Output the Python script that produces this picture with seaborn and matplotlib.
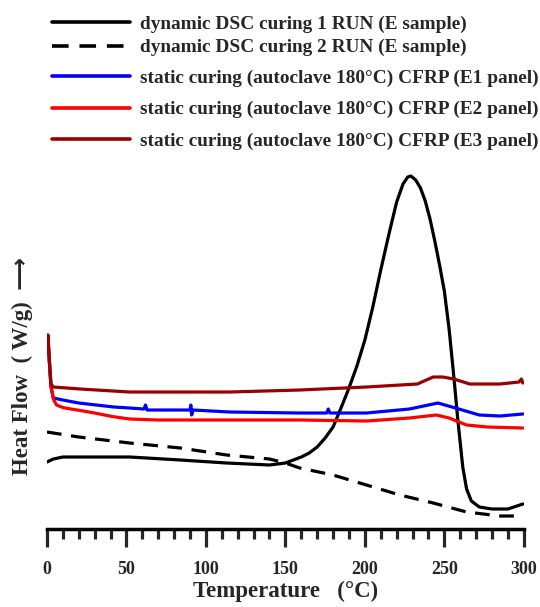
import numpy as np
import pandas as pd
import seaborn as sns
import matplotlib
matplotlib.use("Agg")
import matplotlib.pyplot as plt
from matplotlib.ticker import MultipleLocator

# ---- data (arbitrary heat-flow units) ----
run1_T = [0, 4, 10, 31, 52, 84, 113, 140, 150, 160, 165, 170, 175, 180, 185, 190, 195, 200, 205,
          210, 215, 220, 224, 227, 229, 232, 235, 238, 241, 244, 247, 250, 253, 256, 258.5,
          261.6, 264, 267, 272, 280, 290, 299.4]
run1_Y = [0.67, 0.70, 0.72, 0.72, 0.72, 0.69, 0.66, 0.64, 0.66, 0.72, 0.76, 0.82, 0.91, 1.02,
          1.21, 1.41, 1.63, 1.89, 2.22, 2.59, 2.94, 3.27, 3.45, 3.52, 3.53, 3.49, 3.41, 3.28,
          3.10, 2.88, 2.64, 2.38, 2.00, 1.52, 1.09, 0.62, 0.40, 0.28, 0.22, 0.20, 0.20, 0.25]

run2_T = [0, 20, 52, 84, 113, 140, 150, 159, 180, 201, 222, 243, 264, 285, 299.4]
run2_Y = [0.97, 0.92, 0.86, 0.81, 0.74, 0.70, 0.66, 0.61, 0.54, 0.44, 0.34, 0.26, 0.17, 0.13, 0.13]

e1_T = [0, 0.6, 1.5, 2.5, 4, 10, 20, 31, 42, 52, 61, 62, 63, 90, 90.5, 91, 92, 115, 159, 176,
        177, 178, 201, 228, 246, 257, 272, 285, 299.4]
e1_Y = [1.84, 1.90, 1.66, 1.42, 1.31, 1.29, 1.26, 1.24, 1.22, 1.21, 1.20, 1.24, 1.19, 1.19,
        1.24, 1.14, 1.19, 1.17, 1.16, 1.16, 1.20, 1.16, 1.16, 1.20, 1.26, 1.21, 1.14, 1.13, 1.15]

e2_T = [0, 0.6, 1.5, 2.5, 4, 6, 10, 15, 21, 30, 41, 52, 70, 115, 159, 201, 228, 245, 253, 264,
        277, 299.4]
e2_Y = [1.86, 1.94, 1.69, 1.44, 1.30, 1.24, 1.215, 1.20, 1.185, 1.16, 1.125, 1.10, 1.09, 1.09,
        1.09, 1.08, 1.11, 1.14, 1.11, 1.04, 1.02, 1.01]

e3_T = [0, 0.6, 1.5, 2.5, 4, 21, 52, 115, 159, 201, 233, 243, 249, 256, 266, 285, 297, 298.5,
        299.4]
e3_Y = [1.86, 1.94, 1.69, 1.45, 1.42, 1.40, 1.37, 1.37, 1.39, 1.42, 1.45, 1.52, 1.52, 1.50,
        1.45, 1.45, 1.47, 1.50, 1.46]

labels = ["dynamic DSC curing 1 RUN (E sample)",
          "dynamic DSC curing 2 RUN (E sample)",
          "static curing (autoclave 180°C) CFRP (E1 panel)",
          "static curing (autoclave 180°C) CFRP (E2 panel)",
          "static curing (autoclave 180°C) CFRP (E3 panel)"]
colors = ["black", "black", "#0000ff", "#ff0000", "#990000"]
styles = ["-", "--", "-", "-", "-"]
xticks = [0, 50, 100, 150, 200, 250, 300]

sns.set_style("white")
plt.rcParams["font.family"] = ["Liberation Serif", "DejaVu Serif"]
plt.rcParams["font.weight"] = "bold"

fig = plt.figure(figsize=(5.4, 6.07), dpi=100)
ax = fig.add_axes([0.087, 0.1285, 0.883, 0.5914])

series = [(run1_T, run1_Y), (run2_T, run2_Y), (e1_T, e1_Y), (e2_T, e2_Y), (e3_T, e3_Y)]
lines = []
for (T, Y), lab, c, ls in zip(series, labels, colors, styles):
    df = pd.DataFrame({"T": T, "Y": Y})
    sns.lineplot(data=df, x="T", y="Y", ax=ax, color=c, linewidth=2.3, sort=False,
                 estimator=None, label=lab)
    ln = ax.get_lines()[-1]
    ln.set_solid_joinstyle("round")
    if ls == "--":
        ln.set_dashes([4.6, 3])
    lines.append(ln)

ax.set_xlim(0, 300)
ax.set_ylim(0, 3.59)
ax.set_xticks(xticks)
ax.xaxis.set_minor_locator(MultipleLocator(10))
ax.set_yticks([])
for s in ["left", "top", "right"]:
    ax.spines[s].set_visible(False)
ax.spines["bottom"].set_linewidth(2.5)
ax.spines["bottom"].set_color("black")
ax.tick_params(axis="x", which="major", direction="out", length=13, width=2.3,
               labelsize=13, pad=10, bottom=True)
ax.tick_params(axis="x", which="minor", direction="out", length=7, width=2.3, bottom=True)
for t in ax.get_xticklabels():
    t.set_fontweight("bold")

ax.set_xlabel("Temperature   (°C)", fontsize=16.5, fontweight="bold", labelpad=2)
ax.set_ylabel("Heat Flow  ( W/g)  \u27f6", fontsize=16.5, fontweight="bold",
              family=["Liberation Serif", "DejaVu Sans"])
ax.yaxis.set_label_coords(-0.030, 0.454)

common = dict(loc="upper left", bbox_transform=fig.transFigure, frameon=False,
              fontsize=13.9, handlelength=4.05, handletextpad=0.5,
              borderaxespad=0, borderpad=0)
leg1 = ax.legend(handles=lines[:2], labels=labels[:2],
                 bbox_to_anchor=(52 / 540, 1 - 15 / 607), labelspacing=0.32, **common)
ax.add_artist(leg1)
leg2 = ax.legend(handles=lines[2:], labels=labels[2:],
                 bbox_to_anchor=(52 / 540, 1 - 69 / 607), labelspacing=0.74, **common)
for lg in (leg1, leg2):
    for t in lg.get_texts():
        t.set_fontweight("bold")
    for h in lg.get_lines():
        h.set_linewidth(2.6)

fig.savefig("out.png", dpi=100)
